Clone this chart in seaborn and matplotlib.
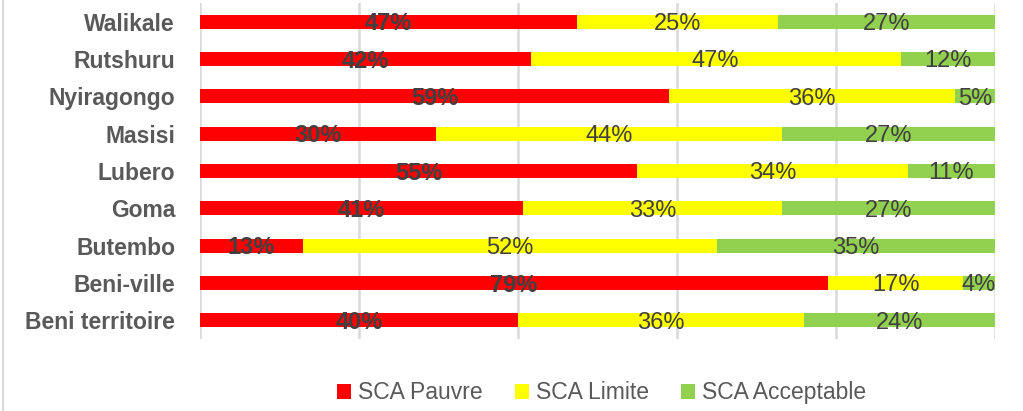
import numpy as np
import pandas as pd
import matplotlib
matplotlib.use("Agg")
import matplotlib.pyplot as plt
from matplotlib.patches import Patch
from matplotlib.lines import Line2D
import seaborn as sns

# ----- DONNÉES -----
territoires = ["Walikale", "Rutshuru", "Nyiragongo", "Masisi", "Lubero",
               "Goma", "Butembo", "Beni-ville", "Beni territoire"]
sca_pauvre = [47, 42, 59, 30, 55, 41, 13, 79, 40]
sca_limite = [25, 47, 36, 44, 34, 33, 52, 17, 36]
sca_acceptable = [27, 12, 5, 27, 11, 27, 35, 4, 24]

series = ["SCA Pauvre", "SCA Limite", "SCA Acceptable"]
couleurs = ["#FF0000", "#FFFF00", "#92D050"]

# ----- STYLE -----
sns.set_theme(style="white")
plt.rcParams["font.family"] = ["Liberation Sans", "DejaVu Sans"]

df = pd.DataFrame({"territoire": territoires, "SCA Pauvre": sca_pauvre,
                   "SCA Limite": sca_limite, "SCA Acceptable": sca_acceptable})
total = df[series].sum(axis=1)
parts = df[series].div(total, axis=0)        # barres 100 % empilées
cumul = parts.cumsum(axis=1)

fig = plt.figure(figsize=(10.23, 4.11), dpi=100)
ax = fig.add_axes([200 / 1023, 1 - 339 / 411, 795 / 1023, 336 / 411])

# on trace du cumul le plus long au plus court pour empiler
for serie, coul in reversed(list(zip(series, couleurs))):
    sns.barplot(x=cumul[serie], y=df["territoire"], orient="h", color=coul,
                saturation=1, width=0.375, linewidth=0, ax=ax)

# étiquettes de données
for i in range(len(df)):
    debut = 0
    for j, serie in enumerate(series):
        w = parts.loc[i, serie]
        ax.text(debut + w / 2, i + 0.06, f"{df.loc[i, serie]}%",
                ha="center", va="center", fontsize=17, color="#404040",
                fontweight="bold" if j == 0 else "normal")
        debut += w

ax.set_xlim(0, 1)
ax.set_ylim(len(df) - 0.5, -0.5)
ax.set_xticks([0, 0.2, 0.4, 0.6, 0.8, 1.0])
ax.set_xticklabels([])
ax.grid(axis="x", color="#D9D9D9", linewidth=1.8)
ax.set_axisbelow(True)
ax.set_xlabel("")
ax.set_ylabel("")
ax.tick_params(axis="both", length=0)
ax.tick_params(axis="y", pad=18)
for lab in ax.get_yticklabels():
    lab.set_fontweight("bold")
    lab.set_fontsize(16.5)
    lab.set_color("#595959")
for sp in ax.spines.values():
    sp.set_visible(False)

# légende
handles = [Patch(facecolor=c, edgecolor="none", label=s) for s, c in zip(series, couleurs)]
leg = fig.legend(handles=handles, loc="center", bbox_to_anchor=(0.588, 0.044),
                 ncol=3, frameon=False, fontsize=16.5, handlelength=0.62,
                 handleheight=0.62, handletextpad=0.3, columnspacing=1.4)
for t in leg.get_texts():
    t.set_color("#595959")

# bordure gauche de la zone graphique
fig.add_artist(Line2D([0.0027, 0.0027], [0, 1], color="#D9D9D9", linewidth=1.5))

fig.savefig("out.png", dpi=100)
